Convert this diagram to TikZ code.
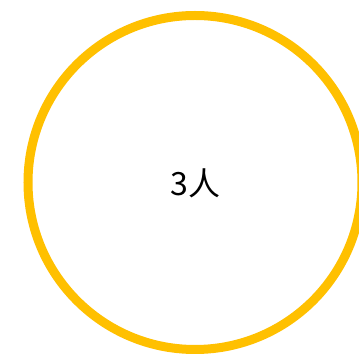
\documentclass[tikz,border=0pt]{standalone}
\usepackage{fontspec}
\newfontfamily\cjk{Noto Sans CJK SC}
\definecolor{ringyellow}{HTML}{FFC000}
\tikzset{
  ring/.style={draw=ringyellow, line width=9pt, circle, minimum size=334pt, inner sep=0pt},
  label/.style={font=\cjk\fontsize{32}{38}\selectfont, text=black}
}
\begin{document}
\begin{tikzpicture}[x=1pt,y=1pt]
\useasboundingbox[fill=white] (0,0) rectangle (359,356);
\node[ring] (circ) at (195,173.5) {};
\node[label] (txt) at (195.5,172.5) {3人};
\end{tikzpicture}
\end{document}
